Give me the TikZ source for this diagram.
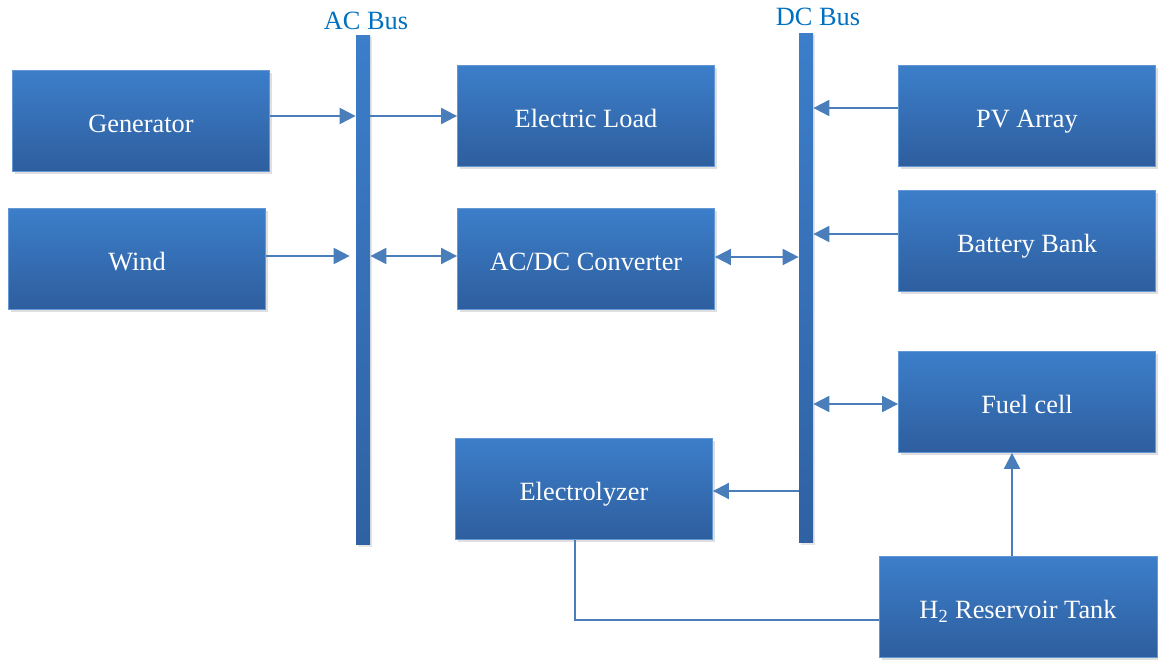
\documentclass[tikz,border=0pt]{standalone}
\usepackage{fontspec}
\setmainfont{Liberation Serif}
\usetikzlibrary{arrows.meta,shadows}
\definecolor{boxtop}{RGB}{60,126,202}
\definecolor{boxbot}{RGB}{46,94,158}
\definecolor{linec}{RGB}{74,126,187}
\definecolor{busc}{RGB}{0,112,192}
\tikzset{
  block/.style={rectangle,draw=boxtop!80!white,line width=0.5pt,top color=boxtop,bottom color=boxbot,
    text=white,minimum width=5.14cm,minimum height=2.02cm,font=\fontsize{15}{18}\selectfont,
    text height=15pt,text depth=2pt,
    drop shadow={opacity=0.25,shadow xshift=0.05cm,shadow yshift=-0.05cm}},
  bus/.style={rectangle,top color=boxtop,bottom color=boxbot!90!boxtop,minimum width=0.28cm,
    minimum height=10.2cm,inner sep=0pt,drop shadow={opacity=0.2,shadow xshift=0.04cm,shadow yshift=-0.04cm}},
  link/.style={draw=linec,line width=1.1pt},
  arr/.style={link,-{Triangle[length=3.2mm,width=3.2mm]}},
  darr/.style={link,{Triangle[length=3.2mm,width=3.2mm]}-{Triangle[length=3.2mm,width=3.2mm]}}
}
\begin{document}
\begin{tikzpicture}[x=0.02cm,y=-0.02cm]
	\useasboundingbox (0,0) rectangle (1158,662);
	\node[bus] (AC) at (363,290) {};
	\node[bus] (DC) at (806,288) {};
	\node[text=busc,font=\fontsize{15}{18}\selectfont] (ACl) at (366,21) {AC Bus};
	\node[text=busc,font=\fontsize{15}{18}\selectfont] (DCl) at (818,17) {DC Bus};
	\begin{scope}[every node/.style={block}]
	\node (G) at (141,121) {Generator};
	\node (W) at (137,259) {Wind};
	\node (L) at (586,116) {Electric Load};
	\node (C) at (586,259) {AC/DC Converter};
	\node (E) at (584,489) {Electrolyzer};
	\node (PV) at (1027,116) {PV Array};
	\node (B) at (1027,241) {Battery Bank};
	\node (F) at (1027,402) {Fuel cell};
	\node[minimum width=5.56cm] (H) at (1018,607) {H\textsubscript{2} Reservoir Tank};
	\end{scope}
	\draw [arr] ([yshift=0.1cm]G.east) -- ([yshift=0.1cm]G.east -| AC.west);
	\draw [arr] (AC.east |- L.west) -- (L.west);
	\draw [arr] ([yshift=0.06cm]W.east) -- ([yshift=0.06cm,xshift=-0.12cm]W.east -| AC.west);
	\draw [darr] ([yshift=0.06cm]C.west -| AC.east) -- ([yshift=0.06cm]C.west);
	\draw [darr] ([yshift=0.04cm]C.east) -- ([yshift=0.04cm]C.east -| DC.west);
	\draw [arr] ([yshift=0.16cm]PV.west) -- ([yshift=0.16cm]PV.west -| DC.east);
	\draw [arr] ([yshift=0.14cm]B.west) -- ([yshift=0.14cm]B.west -| DC.east);
	\draw [darr] ([yshift=-0.04cm]F.west -| DC.east) -- ([yshift=-0.04cm]F.west);
	\draw [arr] ([yshift=-0.04cm]E.east -| DC.west) -- ([yshift=-0.04cm]E.east);
	\draw [link] ([xshift=-0.18cm]E.south) |- ([yshift=-0.26cm]H.west);
	\draw [arr] ([xshift=-0.12cm]H.north) -- ([xshift=-0.12cm]H.north |- F.south);
\end{tikzpicture}
\end{document}
